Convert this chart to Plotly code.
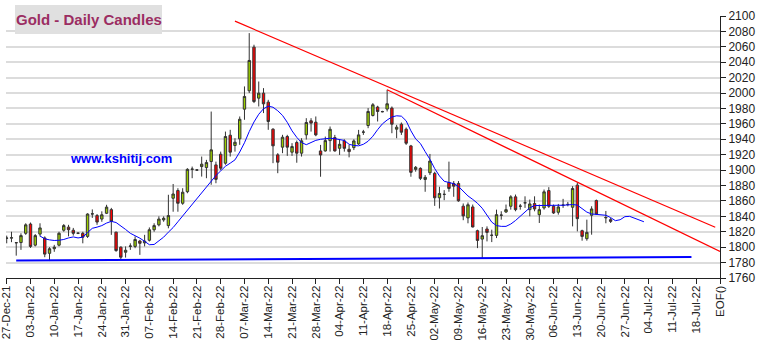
import numpy as np
import pandas as pd
import plotly.graph_objects as go

# ---- daily gold candles (weekdays, 20-Jun-22 had no session) ----
trade_dates = [d for d in pd.bdate_range("2021-12-27", "2022-06-22") if d != pd.Timestamp("2022-06-20")]

open_ = [1811.5, 1811.8, 1806.0, 1806.0, 1818.0, 1830.0, 1802.6, 1817.0, 1812.0, 1792.0,
         1798.0, 1802.6, 1822.0, 1826.0, 1822.0, 1818.0, 1818.0, 1814.0, 1843.0, 1841.0,
         1836.5, 1844.0, 1848.7, 1819.5, 1800.0, 1793.4, 1801.0, 1801.0, 1808.0, 1805.6,
         1809.0, 1822.6, 1829.0, 1835.4, 1828.0, 1863.5, 1873.5, 1857.0, 1872.0, 1901.0,
         1900.0, 1904.6, 1903.3, 1911.1, 1906.8, 1920.6, 1909.0, 1945.3, 1932.0, 1940.6,
         1979.1, 2003.0, 2059.6, 1993.4, 1999.9, 1988.2, 1953.1, 1919.8, 1929.8, 1943.6,
         1923.3, 1935.8, 1922.0, 1945.8, 1964.0, 1962.2, 1924.9, 1924.9, 1938.3, 1942.2,
         1928.3, 1937.9, 1927.0, 1929.2, 1934.0, 1949.2, 1957.9, 1970.9, 1981.8, 1976.0,
         1979.2, 1980.5, 1953.1, 1959.6, 1953.1, 1931.4, 1901.0, 1902.3, 1887.9, 1896.6,
         1895.8, 1864.1, 1868.4, 1884.0, 1882.7, 1882.7, 1853.2, 1838.0, 1852.2, 1821.4,
         1810.5, 1823.6, 1815.3, 1815.3, 1841.4, 1845.7, 1853.1, 1865.3, 1853.1, 1857.4,
         1848.7, 1856.6, 1842.2, 1850.9, 1873.5, 1853.1, 1845.3, 1854.4, 1855.3, 1851.8,
         1880.5, 1821.4, 1811.0, 1841.4, 1860.5, 1838.0, 1835.7]
high = [1815.0, 1820.0, 1806.5, 1818.0, 1831.0, 1832.0, 1817.0, 1831.0, 1814.0, 1800.0,
        1803.0, 1820.0, 1830.0, 1829.0, 1825.0, 1819.0, 1820.0, 1844.0, 1849.0, 1843.0,
        1846.5, 1855.0, 1851.0, 1820.0, 1801.0, 1801.0, 1805.0, 1814.0, 1809.5, 1816.0,
        1825.6, 1831.0, 1840.0, 1840.0, 1868.0, 1882.0, 1876.5, 1876.5, 1902.5, 1904.6,
        1901.0, 1917.6, 1913.3, 1976.0, 1911.0, 1924.0, 1950.0, 1952.3, 1941.4, 1969.6,
        2008.6, 2077.8, 2062.7, 2015.0, 2006.4, 1991.2, 1954.4, 1922.0, 1945.8, 1945.8,
        1935.0, 1938.4, 1941.4, 1967.4, 1967.4, 1969.6, 1932.7, 1943.5, 1956.6, 1945.7,
        1939.2, 1940.0, 1932.7, 1940.0, 1952.2, 1952.2, 1980.5, 1987.0, 1983.5, 1977.0,
        2004.3, 1982.6, 1958.7, 1961.8, 1955.3, 1932.7, 1905.3, 1903.6, 1893.6, 1921.0,
        1897.9, 1878.4, 1874.0, 1911.0, 1885.8, 1885.8, 1856.7, 1858.0, 1855.3, 1822.7,
        1826.2, 1827.0, 1822.7, 1848.7, 1846.6, 1855.3, 1867.4, 1868.3, 1856.1, 1866.0,
        1861.8, 1866.0, 1855.3, 1874.8, 1877.9, 1855.3, 1856.1, 1862.7, 1858.7, 1879.2,
        1883.5, 1822.7, 1835.7, 1853.1, 1861.8, 1847.0, 1837.9]
low = [1805.0, 1806.5, 1789.0, 1796.5, 1816.0, 1799.0, 1801.0, 1814.0, 1787.0, 1782.0,
       1794.0, 1801.0, 1820.0, 1814.0, 1815.0, 1817.0, 1805.0, 1812.0, 1838.0, 1829.0,
       1833.0, 1843.0, 1816.0, 1794.0, 1783.5, 1786.5, 1796.5, 1798.7, 1790.0, 1801.0,
       1807.4, 1820.0, 1827.0, 1833.0, 1824.5, 1846.0, 1846.0, 1855.0, 1870.0, 1889.5,
       1899.0, 1891.6, 1889.5, 1881.0, 1883.0, 1900.0, 1907.0, 1917.6, 1924.0, 1932.8,
       1965.3, 2000.0, 1987.0, 1982.6, 1974.0, 1952.3, 1909.0, 1896.0, 1922.0, 1918.5,
       1918.5, 1909.6, 1917.6, 1939.7, 1950.0, 1944.0, 1891.4, 1924.0, 1924.0, 1924.0,
       1919.7, 1924.0, 1916.6, 1926.0, 1932.7, 1945.7, 1954.4, 1969.6, 1963.1, 1975.0,
       1976.1, 1947.9, 1941.4, 1945.7, 1932.7, 1891.4, 1898.0, 1887.1, 1871.9, 1893.6,
       1853.6, 1850.2, 1861.0, 1871.9, 1865.4, 1858.9, 1835.0, 1831.0, 1825.7, 1798.8,
       1785.8, 1807.5, 1806.6, 1811.8, 1835.7, 1844.4, 1848.7, 1846.6, 1848.7, 1851.0,
       1840.1, 1846.6, 1831.4, 1848.7, 1850.9, 1843.1, 1842.2, 1851.0, 1853.0, 1827.0,
       1820.5, 1808.4, 1808.4, 1816.2, 1842.2, 1831.0, 1831.4]
close = [1811.8, 1812.2, 1805.7, 1815.0, 1829.0, 1801.0, 1815.0, 1825.0, 1791.0, 1798.0,
         1800.0, 1818.0, 1828.0, 1822.6, 1818.0, 1818.2, 1813.0, 1843.0, 1843.3, 1832.6,
         1842.0, 1852.0, 1833.5, 1795.6, 1787.0, 1796.0, 1801.5, 1810.0, 1805.0, 1807.8,
         1822.6, 1828.0, 1836.5, 1837.5, 1841.0, 1869.0, 1857.0, 1871.3, 1901.0, 1901.3,
         1900.2, 1907.7, 1909.8, 1926.3, 1888.0, 1902.5, 1943.6, 1923.3, 1936.2, 1966.0,
         1995.6, 2042.3, 1989.0, 1999.9, 1986.0, 1963.1, 1931.5, 1910.3, 1942.7, 1929.8,
         1930.6, 1922.0, 1938.0, 1961.8, 1961.0, 1945.7, 1919.7, 1938.3, 1953.0, 1924.9,
         1933.5, 1928.3, 1924.0, 1937.9, 1945.7, 1949.4, 1976.1, 1984.8, 1976.1, 1975.8,
         1986.1, 1959.6, 1955.7, 1949.2, 1934.9, 1897.1, 1903.6, 1889.3, 1890.6, 1911.8,
         1864.1, 1869.7, 1868.6, 1876.2, 1879.2, 1860.2, 1840.6, 1855.0, 1826.2, 1808.8,
         1814.9, 1819.2, 1815.5, 1842.2, 1841.6, 1848.7, 1865.3, 1848.7, 1853.3, 1857.6,
         1856.1, 1849.6, 1848.7, 1871.8, 1853.1, 1844.4, 1852.2, 1854.6, 1855.5, 1876.1,
         1837.0, 1814.0, 1819.2, 1849.6, 1843.1, 1838.5, 1833.5]

# ---- displaced moving average, one value per weekday from 05-Jan-22 ----
ma_start = "2022-01-05"
ma_values = [1814.5, 1810.8, 1809.5, 1808.7, 1809.0, 1810.0, 1812.0, 1813.3, 1812.0, 1813.0,
             1819.0, 1824.5, 1826.0, 1828.0, 1831.3, 1833.5, 1832.0, 1828.0, 1823.0, 1818.0,
             1815.0, 1811.7, 1807.6, 1803.2, 1803.5, 1808.0, 1813.0, 1819.5, 1825.5, 1833.0,
             1840.5, 1848.5, 1856.5, 1864.0, 1871.5, 1878.5, 1886.0, 1893.0, 1899.0, 1905.0,
             1909.0, 1913.3, 1923.5, 1935.5, 1950.0, 1962.5, 1972.5, 1979.6, 1983.0, 1981.6,
             1977.0, 1971.0, 1962.0, 1951.0, 1942.5, 1935.8, 1933.0, 1936.0, 1938.6, 1940.0,
             1941.0, 1941.4, 1940.8, 1940.0, 1938.5, 1933.5, 1932.0, 1931.5, 1933.5, 1937.5,
             1944.0, 1952.5, 1960.0, 1965.0, 1969.0, 1970.5, 1970.0, 1964.0, 1951.0, 1940.5,
             1934.5, 1924.0, 1914.0, 1902.0, 1892.5, 1885.5, 1884.0, 1882.4, 1878.8, 1872.5,
             1866.5, 1862.0, 1857.0, 1850.5, 1842.0, 1832.5, 1828.0, 1827.0, 1827.0, 1830.0,
             1834.6, 1840.0, 1845.5, 1851.2, 1854.0, 1854.1, 1855.0, 1854.6, 1854.4, 1854.4,
             1854.4, 1854.8, 1855.3, 1854.6, 1850.0, 1845.5, 1843.1, 1842.8, 1842.2, 1841.4,
             1838.4, 1834.4, 1835.6, 1839.6, 1840.0, 1838.0, 1836.0, 1833.0]

# ---- trend lines (date, price) ----
upper_trend = [("2022-03-03", 2093.3), ("2022-07-22", 1825.8)]
lower_trend = [("2022-04-18", 2004.2), ("2022-07-25", 1794.5)]
support_line = [("2021-12-29", 1782.8), ("2022-07-15", 1787.3)]

# ---- weekly axis labels ----
tick_dates = list(pd.date_range("2021-12-27", "2022-07-18", freq="7D"))
end_label_date = pd.Timestamp("2022-07-25")

ORIGIN = np.datetime64("2021-12-27")


def day_pos(d):
    """Position on the trading-day axis (weekdays only)."""
    return int(np.busday_count(ORIGIN, np.datetime64(pd.Timestamp(d).date())))


x_candles = [day_pos(d) for d in trade_dates]
ma_dates = pd.bdate_range(ma_start, periods=len(ma_values))
x_ma = [day_pos(d) for d in ma_dates]

fig = go.Figure()

fig.add_trace(go.Candlestick(
    x=x_candles, open=open_, high=high, low=low, close=close,
    increasing=dict(fillcolor="#99cc00", line=dict(color="#333333", width=1)),
    decreasing=dict(fillcolor="#ff0000", line=dict(color="#333333", width=1)),
    whiskerwidth=0, showlegend=False, hoverinfo="skip",
))

fig.add_trace(go.Scatter(x=x_ma, y=ma_values, mode="lines",
                         line=dict(color="#0000ff", width=1), showlegend=False, hoverinfo="skip"))

for pts, col, w in [(upper_trend, "#ff0000", 1.2), (lower_trend, "#ff0000", 1.2),
                    (support_line, "#0000ff", 2)]:
    fig.add_trace(go.Scatter(x=[day_pos(d) for d, _ in pts], y=[p for _, p in pts],
                             mode="lines", line=dict(color=col, width=w),
                             showlegend=False, hoverinfo="skip"))

tickvals = [day_pos(d) for d in tick_dates] + [day_pos(end_label_date)]
ticktext = [d.strftime("%d-%b-%y") for d in tick_dates] + ["EOF()"]

W, H = 763, 344
ML, MR, MT, MB = 6, 43, 16, 66
pw, ph = W - ML - MR, H - MT - MB


def px_to_paper(px, py):
    return (px - ML) / pw, (H - MB - py) / ph


bx0, by0 = px_to_paper(15, 34)
bx1, by1 = px_to_paper(162, 5)
wx, wy = px_to_paper(68, 158)

fig.update_layout(
    width=W, height=H,
    margin=dict(l=ML, r=MR, t=MT, b=MB, pad=0, autoexpand=False),
    paper_bgcolor="white", plot_bgcolor="white",
    font=dict(family="Liberation Sans, Arial, sans-serif", size=12, color="#222222"),
    boxgap=0.28,
    xaxis=dict(
        range=[-0.15, 150], tickmode="array", tickvals=tickvals, ticktext=ticktext,
        tickangle=-90, ticks="outside", ticklen=5, tickcolor="#222222",
        showline=True, linecolor="#222222", linewidth=1, automargin=False,
        ticklabeloverflow="allow", ticklabelstandoff=-3,
        showgrid=False, zeroline=False, rangeslider=dict(visible=False),
        tickfont=dict(size=11.5, color="#222222"),
    ),
    yaxis=dict(
        side="right", range=[1760, 2100], dtick=20, tick0=1760,
        ticks="outside", ticklen=5, tickcolor="#222222", automargin=False,
        showline=True, linecolor="#222222", linewidth=1,
        showgrid=True, gridcolor="#dcdcdc", gridwidth=1.5, zeroline=False,
        tickfont=dict(size=12, color="#222222"),
    ),
    shapes=[dict(type="rect", xref="paper", yref="paper", x0=bx0, x1=bx1, y0=by0, y1=by1,
                 fillcolor="#e0e0e0", line=dict(width=0), layer="above")],
    annotations=[
        dict(xref="paper", yref="paper", x=(bx0 + bx1) / 2, y=(by0 + by1) / 2,
             text="<b>Gold - Daily Candles</b>", showarrow=False,
             xanchor="center", yanchor="middle",
             font=dict(size=15, color="#9b2d62", family="Liberation Sans, Arial, sans-serif")),
        dict(xref="paper", yref="paper", x=wx, y=wy, text="<b>www.kshitij.com</b>",
             showarrow=False, xanchor="left", yanchor="middle",
             font=dict(size=13, color="#0000ff", family="Liberation Sans, Arial, sans-serif")),
    ],
)

fig.write_html("out.html")
